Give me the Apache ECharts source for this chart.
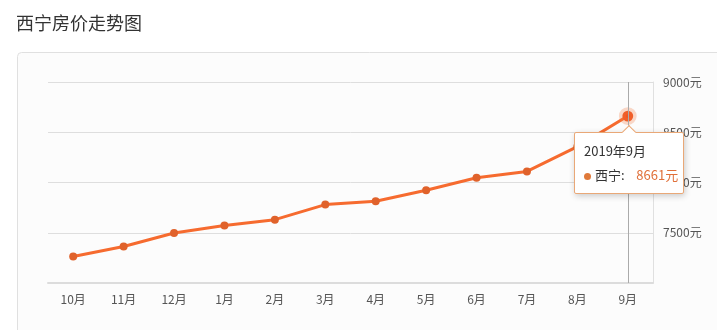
<!DOCTYPE html>
<html><head><meta charset="utf-8">
<script src="https://cdn.jsdelivr.net/npm/echarts@6/dist/echarts.min.js"></script>
<style>html,body{margin:0;padding:0;background:#fff;}#c{width:717px;height:330px;}</style>
</head><body><div id="c"></div>
<script>
var titleText = '西宁房价走势图';
var seriesName = '西宁';
var categories = ['10月','11月','12月','1月','2月','3月','4月','5月','6月','7月','8月','9月'];
var fullDates = ['2018年10月','2018年11月','2018年12月','2019年1月','2019年2月','2019年3月','2019年4月','2019年5月','2019年6月','2019年7月','2019年8月','2019年9月'];
var prices = [7263, 7363, 7497, 7572, 7630, 7780, 7813, 7923, 8047, 8110, 8357, 8661];
var yTicks = [7000, 7500, 8000, 8500, 9000];

var FONT = '"Noto Sans CJK SC", "Noto Sans", sans-serif';
var chart = echarts.init(document.getElementById('c'), null, {renderer:'canvas'});
chart.setOption({
  animation: false,
  textStyle: {fontFamily: FONT},
  title: {text: titleText, left: 11, top: 9, textStyle: {fontSize: 18, fontWeight: 'normal', color: '#333', fontFamily: FONT}},
  graphic: [{type:'rect', z:-10, shape:{x:17.5, y:52.5, width:720, height:300, r:4}, style:{fill:'#fcfcfc', stroke:'#e0e0e0', lineWidth:1}}],
  grid: {left: 48, right: 64, top: 82, bottom: 47},
  tooltip: {
    trigger: 'item', triggerOn: 'none', alwaysShowContent: true,
    position: function(point, params, dom, rect, size){
      var w = size.contentSize[0];
      return [rect.x + rect.width / 2 - w / 2 + 1, rect.y + rect.height + 12];
    },
    backgroundColor: '#fff', borderColor: '#e9a877', borderWidth: 1, padding: [9, 9, 9, 9],
    extraCssText: 'box-shadow:1px 2px 6px rgba(0,0,0,0.2);border-radius:2px;width:90px;overflow:visible;',
    textStyle: {fontFamily: FONT, fontSize: 13, color: '#333'},
    formatter: function(p){
      return '<div style="position:absolute;left:50%;top:-6px;margin-left:-5px;width:9px;height:9px;background:#fff;border-left:1px solid #e9a877;border-top:1px solid #e9a877;transform:rotate(45deg);z-index:2"></div>' +
        '<div style="font-size:13px;color:#333;line-height:18px;margin-bottom:6px">' + fullDates[p.dataIndex] + '</div>' +
        '<div style="font-size:13px;line-height:18px;color:#333;white-space:nowrap"><span style="display:inline-block;width:7px;height:7px;border-radius:50%;background:#e07a3a;margin-right:4px;vertical-align:middle"></span>' + p.seriesName + ':&nbsp;&nbsp;&nbsp;&nbsp;<span style="color:#e0703a">' + p.value + '元</span></div>';
    }
  },
  axisPointer: {show: true},
  xAxis: {
    type: 'category', data: categories, boundaryGap: true,
    axisLine: {lineStyle: {color: '#dcdcdc', width: 2}},
    axisTick: {alignWithLabel: true, length: 4, lineStyle: {color: '#dcdcdc'}},
    axisLabel: {color: '#555', fontSize: 12, margin: 10, fontFamily: FONT},
    splitLine: {show: false},
    axisPointer: {show: true, type: 'line', value: categories.length - 1, status: 'show', triggerTooltip: false, label: {show: false}, lineStyle: {color: '#aaa', width: 1, type: 'solid'}}
  },
  yAxis: {
    type: 'value', position: 'right', min: yTicks[0], max: yTicks[yTicks.length-1], interval: 500,
    axisLine: {show: true, lineStyle: {color: '#e0e0e0', width: 1}},
    axisTick: {show: false},
    axisLabel: {showMinLabel: false, color: '#555', fontSize: 12, margin: 10, formatter: function(v){ return v + '元'; }, fontFamily: FONT},
    splitLine: {lineStyle: {color: '#dedede', width: 1}},
    axisPointer: {show: false}
  },
  series: [{
    name: seriesName, type: 'line', data: prices,
    symbol: 'circle', symbolSize: 8,
    lineStyle: {color: '#e0622b', width: 3},
    itemStyle: {color: '#e0622b'},
    emphasis: {scale: 1.35, itemStyle: {color: '#f05522', borderColor: 'rgba(240,120,60,0.28)', borderWidth: 7}, lineStyle: {width: 3}},
    z: 3
  }]
});
chart.dispatchAction({type: 'highlight', seriesIndex: 0, dataIndex: prices.length - 1});
chart.dispatchAction({type: 'showTip', seriesIndex: 0, dataIndex: prices.length - 1});
</script></body></html>
